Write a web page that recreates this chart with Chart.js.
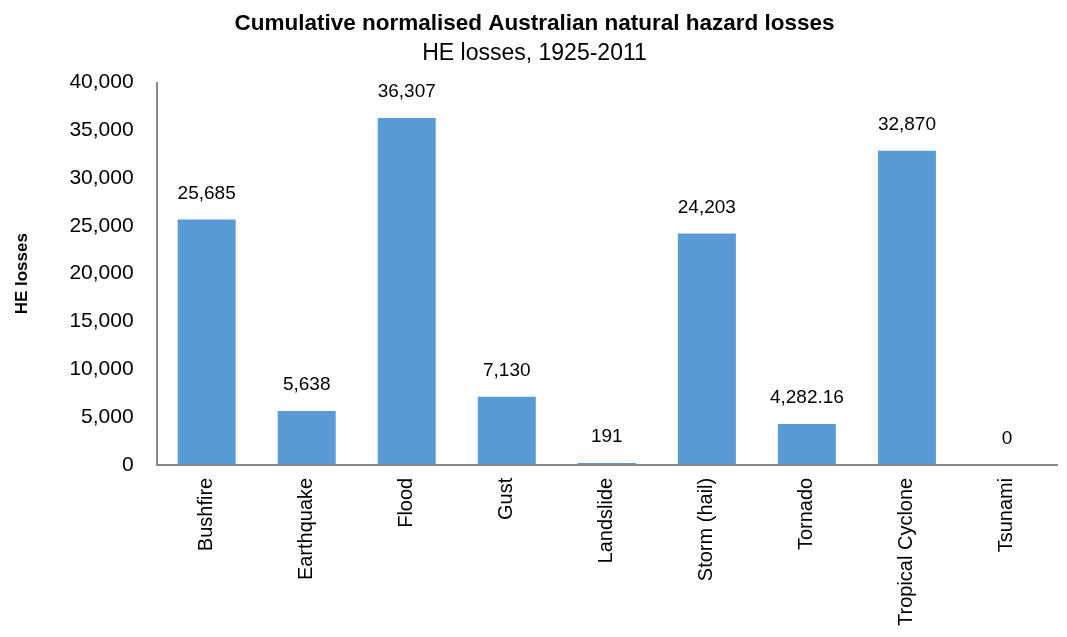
<!DOCTYPE html>
<html lang="en">
<head>
    <meta charset="UTF-8">
    <title>Cumulative normalised Australian natural hazard losses</title>
    <script src="https://cdn.jsdelivr.net/npm/chart.js"></script>
    <style>
        body {
            margin: 0;
            background-color: #ffffff;
        }
        .wrap {
            width: 1067px;
            height: 637px;
        }
    </style>
</head>
<body>
    <div class="wrap">
        <canvas id="grafico"></canvas>
    </div>

    <script>
        const categorias = ["Bushfire", "Earthquake", "Flood", "Gust", "Landslide",
            "Storm (hail)", "Tornado", "Tropical Cyclone", "Tsunami"];
        const perdas = [25685, 5638, 36307, 7130, 191, 24203, 4282.16, 32870, 0];
        const rotulos = ["25,685", "5,638", "36,307", "7,130", "191", "24,203", "4,282.16", "32,870", "0"];
        const ticksY = [0, 5000, 10000, 15000, 20000, 25000, 30000, 35000, 40000];

        const fonte = "'Liberation Sans', Arial, sans-serif";

        // rótulos de valor acima das barras
        const rotuloPlugin = {
            id: "rotuloPlugin",
            afterDatasetsDraw(chart) {
                const ctx = chart.ctx;
                const meta = chart.getDatasetMeta(0);
                ctx.save();
                ctx.font = "19px " + fonte;
                ctx.fillStyle = "#000";
                ctx.textAlign = "center";
                ctx.textBaseline = "middle";
                meta.data.forEach((bar, i) => {
                    ctx.fillText(rotulos[i], bar.x, bar.y - 26);
                });
                ctx.restore();
            }
        };

        new Chart(document.getElementById("grafico"), {
            type: "bar",
            data: {
                labels: categorias,
                datasets: [{
                    data: perdas,
                    backgroundColor: "#5b9bd5",
                    barPercentage: 0.58,
                    categoryPercentage: 1
                }]
            },
            options: {
                responsive: true,
                maintainAspectRatio: false,
                animation: false,
                layout: { padding: { left: 12, right: 10, top: 0, bottom: 6 } },
                plugins: {
                    legend: { display: false },
                    tooltip: { enabled: false },
                    title: {
                        display: true,
                        text: "Cumulative normalised Australian natural hazard losses",
                        color: "#000",
                        font: { family: fonte, size: 22.5, weight: "bold" },
                        padding: { top: 10, bottom: 3 }
                    },
                    subtitle: {
                        display: true,
                        text: "HE losses, 1925-2011",
                        color: "#000",
                        font: { family: fonte, size: 23 },
                        padding: { top: 0, bottom: 15 }
                    }
                },
                scales: {
                    x: {
                        grid: { display: false },
                        border: { display: true, color: "#888888", width: 2 },
                        ticks: {
                            color: "#000",
                            font: { family: fonte, size: 20 },
                            maxRotation: 90,
                            minRotation: 90,
                            autoSkip: false,
                            padding: 5
                        }
                    },
                    y: {
                        min: 0,
                        max: 40000,
                        afterBuildTicks(scale) {
                            scale.ticks = ticksY.map(v => ({ value: v }));
                        },
                        grid: { drawOnChartArea: false, drawTicks: false },
                        border: { display: true, color: "#888888", width: 2 },
                        ticks: {
                            color: "#000",
                            font: { family: fonte, size: 21 },
                            padding: 23,
                            callback: v => v.toLocaleString("en-US")
                        },
                        title: {
                            display: true,
                            text: "HE losses",
                            color: "#000",
                            font: { family: fonte, size: 17, weight: "bold" },
                            padding: { top: 0, bottom: 14 }
                        }
                    }
                }
            },
            plugins: [rotuloPlugin]
        });
    </script>
</body>
</html>
